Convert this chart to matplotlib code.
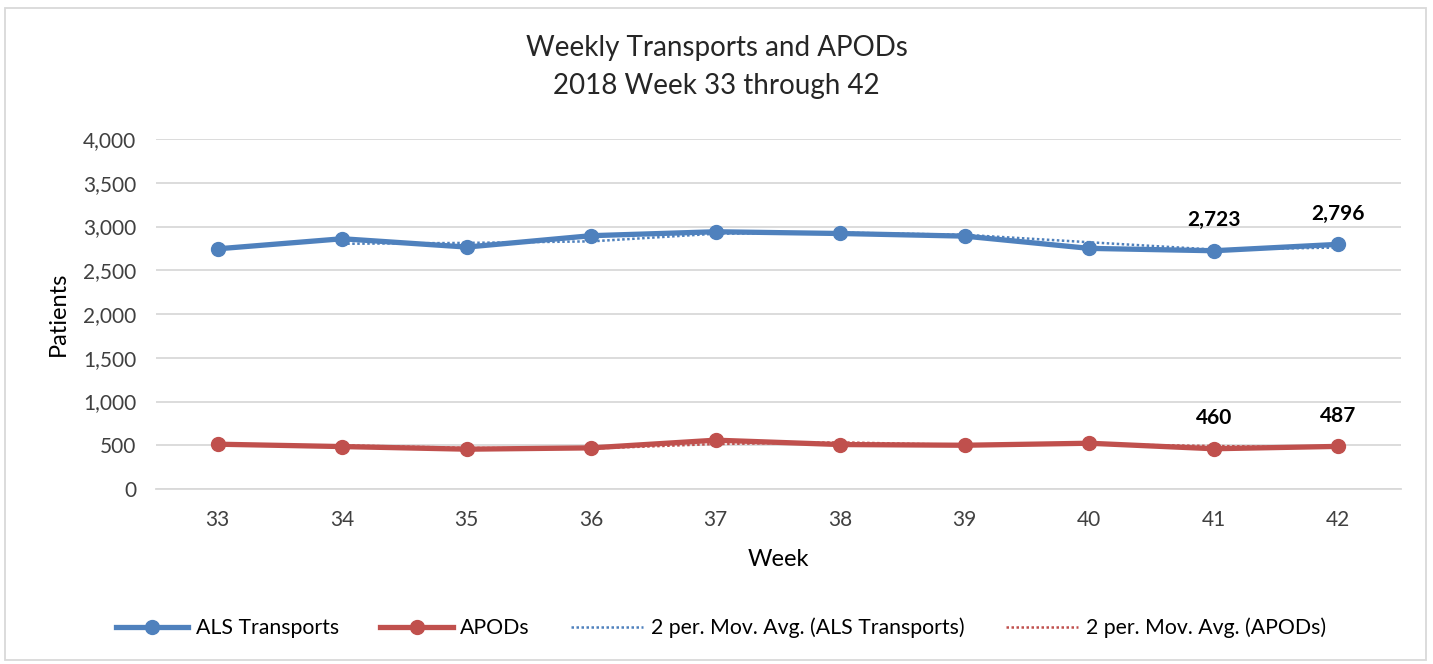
"""Weekly Transports and APODs, 2018 week 33 through 42 — line chart with 2-period moving averages."""
import numpy as np
import pandas as pd
import matplotlib
matplotlib.use("Agg")
import matplotlib.pyplot as plt
from matplotlib.ticker import FuncFormatter

weeks = [33, 34, 35, 36, 37, 38, 39, 40, 41, 42]
als_transports = [2745, 2860, 2765, 2895, 2940, 2920, 2890, 2750, 2723, 2796]
apods = [512, 485, 455, 470, 558, 508, 500, 523, 460, 487]
labelled_weeks = [41, 42]

BLUE = "#4F81BD"
RED = "#C0504D"

plt.rcParams["font.family"] = ["Lato", "DejaVu Sans"]

# Excel "2 per. Mov. Avg." trendline = rolling mean over two points
als_ma = pd.Series(als_transports).rolling(2).mean()
apods_ma = pd.Series(apods).rolling(2).mean()

fig = plt.figure(figsize=(14.33, 6.64), dpi=100)
ax = fig.add_axes([155.5 / 1433, 1 - 489 / 664, 1245 / 1433, 350 / 664])

x = np.arange(len(weeks))
ax.plot(x, als_transports, color=BLUE, lw=3.8, marker="o", ms=10, label="ALS Transports", zorder=3)
ax.plot(x, apods, color=RED, lw=3.8, marker="o", ms=10, label="APODs", zorder=3)
ax.plot(x, als_ma, color=BLUE, lw=1.8, ls=(0, (1, 1)), label="2 per. Mov. Avg. (ALS Transports)", zorder=4)
ax.plot(x, apods_ma, color=RED, lw=1.8, ls=(0, (1, 1)), label="2 per. Mov. Avg. (APODs)", zorder=4)

for series in (als_transports, apods):
    for w in labelled_weeks:
        i = weeks.index(w)
        ax.annotate(f"{series[i]:,}", (x[i], series[i]), xytext=(0, 15), textcoords="offset points",
                    ha="center", va="bottom", fontsize=15, fontweight="bold", color="black")

ax.set_xlim(-0.5, len(weeks) - 0.5)
ax.set_ylim(0, 4000)
ax.set_yticks(np.arange(0, 4001, 500))
ax.yaxis.set_major_formatter(FuncFormatter(lambda v, _: f"{int(v):,}"))
ax.set_xticks(x)
ax.set_xticklabels([str(w) for w in weeks])
ax.tick_params(axis="both", length=0, labelsize=15, colors="#404040")
ax.tick_params(axis="x", pad=15)
ax.tick_params(axis="y", pad=14)
ax.grid(axis="y", color="#D9D9D9", lw=1.3)
ax.set_axisbelow(True)
for side in ("top", "right", "left"):
    ax.spines[side].set_visible(False)
ax.spines["bottom"].set_color("#D9D9D9")
ax.spines["bottom"].set_linewidth(1.3)

ax.set_xlabel("Week", fontsize=17, labelpad=14)
ax.set_ylabel("Patients", fontsize=17, labelpad=10)
fig.suptitle("Weekly Transports and APODs\n2018 Week 33 through 42", y=0.948, fontsize=20,
             color="#262626", linespacing=1.6)

fig.legend(loc="center", bbox_to_anchor=(721 / 1433, 1 - 628 / 664), ncol=4, frameon=False, fontsize=15.3,
           handlelength=3.4, columnspacing=1.95, handletextpad=0.35)

# light chart-area border
fig.patches.append(plt.Rectangle((5 / 1433, 4 / 664), 1421 / 1433, 652 / 664, transform=fig.transFigure,
                                 fill=False, edgecolor="#D9D9D9", lw=1.3))

fig.savefig("out.png", dpi=100)
